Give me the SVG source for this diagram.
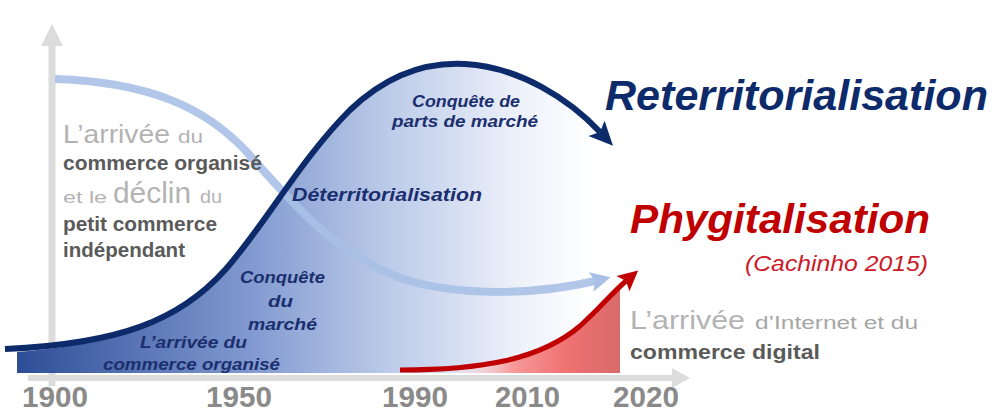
<svg xmlns="http://www.w3.org/2000/svg" width="993" height="414" viewBox="0 0 993 414">
<style>
.gray{font-family:"Liberation Sans",Arial,sans-serif;}
.light{fill:#b3b3b3;}
.dark{fill:#5a5a5a;font-weight:bold;}
.navy{font-family:"Liberation Sans",Arial,sans-serif;font-weight:bold;font-style:italic;fill:#1b2f6e;font-size:17px;}
.year{font-family:"Liberation Sans",Arial,sans-serif;font-weight:bold;fill:#8a8a8a;font-size:30px;}
.title{font-family:"Liberation Sans",Arial,sans-serif;font-weight:bold;font-style:italic;}
</style>
<defs>
<linearGradient id="gBlue" gradientUnits="userSpaceOnUse" x1="17" y1="0" x2="590" y2="0">
<stop offset="0" stop-color="#2d4d97"/>
<stop offset="0.4" stop-color="#7f98cf"/>
<stop offset="0.65" stop-color="#bccbe9"/>
<stop offset="0.88" stop-color="#eef2fa"/>
<stop offset="1" stop-color="#ffffff"/>
</linearGradient>
<linearGradient id="gRed" gradientUnits="userSpaceOnUse" x1="440" y1="0" x2="620" y2="0">
<stop offset="0" stop-color="#ffffff" stop-opacity="0"/>
<stop offset="0.4" stop-color="#f79a9a"/>
<stop offset="0.7" stop-color="#f07272"/>
<stop offset="1" stop-color="#d86a6a"/>
</linearGradient>
<marker id="ahNavy" markerUnits="userSpaceOnUse" viewBox="0 0 24 24" markerWidth="24" markerHeight="24" refX="5" refY="12" orient="auto">
<path d="M0,1 L24,12 L0,23 L5,12 Z" fill="#0d2b6b"/>
</marker>
<marker id="ahLight" markerUnits="userSpaceOnUse" viewBox="0 0 22 22" markerWidth="22" markerHeight="22" refX="4" refY="11" orient="auto">
<path d="M0,1 L20,11 L0,21 L4,11 Z" fill="#a9c0e6"/>
</marker>
<marker id="ahRed" markerUnits="userSpaceOnUse" viewBox="0 0 22 22" markerWidth="22" markerHeight="22" refX="4" refY="11" orient="auto">
<path d="M0,1 L20,11 L0,21 L4,11 Z" fill="#c00000"/>
</marker>
</defs>

<g id="axes">
<line x1="52" y1="44" x2="52" y2="386" stroke="#dcdcdc" stroke-width="7"/>
<polygon points="41,46 52,24 63,46" fill="#dcdcdc"/>
<line x1="28" y1="378" x2="674" y2="378" stroke="#dcdcdc" stroke-width="6"/>
<polygon points="672,368 690,378 672,388" fill="#dcdcdc"/>
</g>

<g id="area-blue">
<path d="M17,352 C120,344 180,320 225,270 C265,225 300,160 350,110 C390,72 430,62 465,64 C520,67 560,95 590,125 L590,373 L17,373 Z" fill="url(#gBlue)"/>
</g>
<g id="area-red">
<path d="M400,373 L400,371 C480,370 540,360 580,326 C592,314 606,300 620,289 L620,373 Z" fill="url(#gRed)"/>
</g>

<g id="connectors" fill="none">
<path id="decline" d="M55,79 C150,82 205,108 245,150 C290,200 330,250 400,278 C460,298 540,294 595,281" stroke="#a9c0e6" stroke-width="8" stroke-opacity="0.9" marker-end="url(#ahLight)"/>
<path id="rise" d="M5,349 C120,344 180,320 225,270 C265,225 300,160 350,110 C390,72 430,62 465,64 C520,67 570,100 600,132" stroke="#0d2b6b" stroke-width="6" marker-end="url(#ahNavy)"/>
<path id="digital" d="M400,370 C480,370 540,360 580,326 C600,308 612,293 626,281" stroke="#c00000" stroke-width="5" marker-end="url(#ahRed)"/>
</g>

<g id="left-text" class="gray">
<text x="63" y="143" font-size="25" class="light" textLength="107" lengthAdjust="spacingAndGlyphs">L’arrivée</text>
<text x="178" y="143" font-size="18" class="light" textLength="25" lengthAdjust="spacingAndGlyphs">du</text>
<text x="63" y="170" font-size="21" class="dark" textLength="199" lengthAdjust="spacingAndGlyphs">commerce organisé</text>
<text x="63" y="203" font-size="17" class="light" textLength="44" lengthAdjust="spacingAndGlyphs">et le</text>
<text x="113" y="203" font-size="29" class="light" textLength="78" lengthAdjust="spacingAndGlyphs">déclin</text>
<text x="200" y="203" font-size="18" class="light" textLength="22" lengthAdjust="spacingAndGlyphs">du</text>
<text x="63" y="231" font-size="21" class="dark" textLength="154" lengthAdjust="spacingAndGlyphs">petit commerce</text>
<text x="63" y="257" font-size="21" class="dark" textLength="122" lengthAdjust="spacingAndGlyphs">indépendant</text>
</g>

<g id="right-text" class="gray">
<text x="630" y="329" font-size="25" class="light" textLength="115" lengthAdjust="spacingAndGlyphs">L’arrivée</text>
<text x="755" y="329" font-size="18" fill="#a6a6a6" textLength="163" lengthAdjust="spacingAndGlyphs">d’Internet et du</text>
<text x="630" y="359" font-size="21" class="dark" textLength="190" lengthAdjust="spacingAndGlyphs">commerce digital</text>
</g>

<g id="labels-navy" class="navy">
<text x="412" y="107" textLength="108" lengthAdjust="spacingAndGlyphs">Conquête de</text>
<text x="392" y="127" textLength="146" lengthAdjust="spacingAndGlyphs">parts de marché</text>
<text x="292" y="201" font-size="18" textLength="190" lengthAdjust="spacingAndGlyphs">Déterritorialisation</text>
<text x="240" y="283" textLength="85" lengthAdjust="spacingAndGlyphs">Conquête</text>
<text x="268" y="307" textLength="25" lengthAdjust="spacingAndGlyphs">du</text>
<text x="248" y="330" textLength="69" lengthAdjust="spacingAndGlyphs">marché</text>
<text x="140" y="348" textLength="107" lengthAdjust="spacingAndGlyphs">L’arrivée du</text>
<text x="103" y="370" textLength="177" lengthAdjust="spacingAndGlyphs">commerce organisé</text>
</g>

<g id="titles" class="title">
<text x="605" y="110" font-size="42" fill="#0d2b6b" textLength="383" lengthAdjust="spacingAndGlyphs">Reterritorialisation</text>
<text x="630" y="233" font-size="40" fill="#c00000" textLength="300" lengthAdjust="spacingAndGlyphs">Phygitalisation</text>
<text x="745" y="271" font-size="22" font-weight="normal" fill="#cc1a2a" textLength="183" lengthAdjust="spacingAndGlyphs">(Cachinho 2015)</text>
</g>

<g id="years" class="year">
<text x="22" y="407" textLength="66" lengthAdjust="spacingAndGlyphs">1900</text>
<text x="206" y="407" textLength="66" lengthAdjust="spacingAndGlyphs">1950</text>
<text x="382" y="407" textLength="66" lengthAdjust="spacingAndGlyphs">1990</text>
<text x="495" y="407" textLength="65" lengthAdjust="spacingAndGlyphs">2010</text>
<text x="613" y="407" textLength="66" lengthAdjust="spacingAndGlyphs">2020</text>
</g>
</svg>
